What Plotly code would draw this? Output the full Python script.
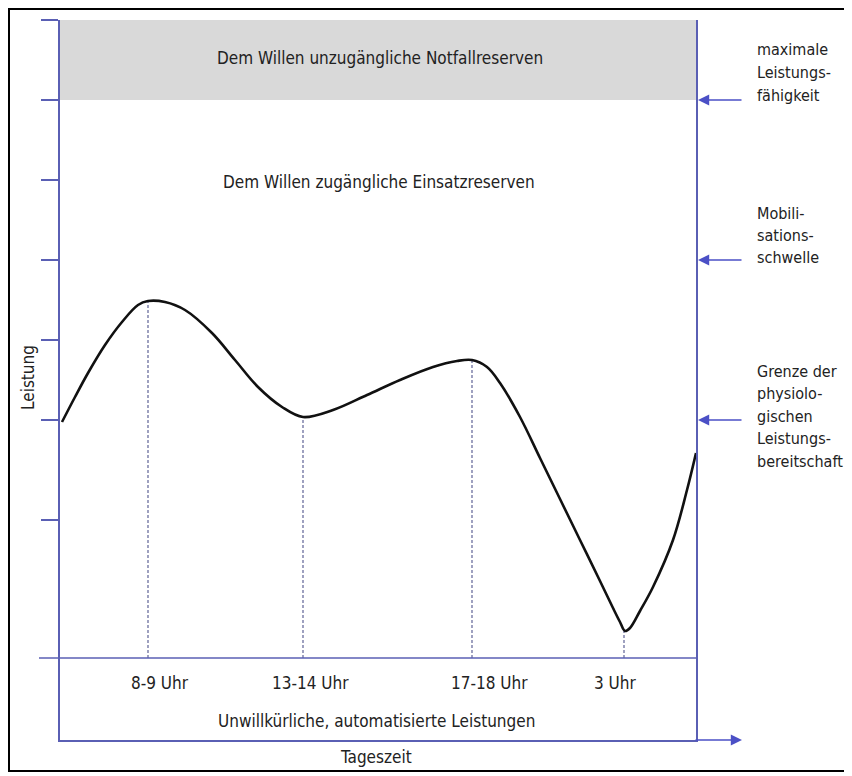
import plotly.graph_objects as go

# ---- data (arbitrary units: x = time-of-day position, y = Leistung) ----
curve_x = [2, 15, 28, 45, 62, 78, 88, 105, 125, 152, 175, 198, 222, 243, 273, 307, 340,
           373, 397, 412, 427, 440, 460, 480, 500, 520, 540, 553, 560, 565, 570, 580, 593,
           613, 627, 636]
curve_y = [236, 261, 285, 313, 336, 353, 357, 356, 348, 325, 298, 271, 251, 241, 248, 263, 278,
           291, 297, 298, 291, 275, 241, 200, 159, 118, 77, 50, 36, 27, 30, 47, 71,
           118, 168, 205]

time_labels = ["8-9 Uhr", "13-14 Uhr", "17-18 Uhr", "3 Uhr"]
time_pos = [88, 243, 412, 564]
time_val = [357, 241, 298, 27]
time_label_pos = [100, 250, 429, 555]

level_ticks = [138, 238, 318, 398, 478, 558, 638]
level_vals = [558, 398, 238]
level_labels = [["maximale", "Leistungs-", "fähigkeit"],
                ["Mobili-", "sations-", "schwelle"],
                ["Grenze der", "physiolo-", "gischen", "Leistungs-", "bereitschaft"]]

band_low, band_high = 558, 638
X0, X1 = 0, 636
Y0, Y1 = -82, 638

FONT = "Liberation Sans Narrow, DejaVu Sans Condensed, Roboto, sans-serif"
BLUE = "#5a5fb4"
ARROW = "#4b50c6"
TXT = "#222222"


def xp(x):
    return (x - X0) / (X1 - X0)


def yp(y):
    return (y - Y0) / (Y1 - Y0)


fig = go.Figure()

# dashed guide lines
for t, v in zip(time_pos, time_val):
    fig.add_trace(go.Scatter(x=[t, t], y=[0, v], mode="lines",
                             line=dict(color="#5f6396", width=1.2, dash="3px,2px"),
                             hoverinfo="skip", showlegend=False))

# performance curve
fig.add_trace(go.Scatter(x=curve_x, y=curve_y, mode="lines",
                         line=dict(color="#111111", width=2.6, shape="spline", smoothing=1.0),
                         showlegend=False))

shapes = []
shapes.append(dict(type="rect", xref="x", yref="y", x0=X0, x1=X1, y0=band_low, y1=band_high,
                   fillcolor="#d9d9d9", line=dict(width=0), layer="below"))
shapes.append(dict(type="line", xref="paper", yref="paper", x0=-21 / (X1 - X0), x1=1,
                   y0=yp(0), y1=yp(0), line=dict(color=BLUE, width=1.6)))
shapes.append(dict(type="rect", xref="paper", yref="paper",
                   x0=-51 / 636, x1=789 / 636, y0=-31 / 720, y1=731 / 720,
                   line=dict(color="#000000", width=2)))

annotations = []
annotations.append(dict(x=(X0 + X1) / 2 + 2, y=(band_low + band_high) / 2 + 2, xref="x", yref="y",
                        text="Dem Willen unzugängliche Notfallreserven", showarrow=False,
                        font=dict(size=17, color=TXT, family=FONT)))
annotations.append(dict(x=(X0 + X1) / 2 + 1, y=476, xref="x", yref="y",
                        text="Dem Willen zugängliche Einsatzreserven", showarrow=False,
                        font=dict(size=17, color=TXT, family=FONT)))
for lab, xpos in zip(time_labels, time_label_pos):
    annotations.append(dict(x=xpos, y=-25, xref="x", yref="y", text=lab, showarrow=False,
                            font=dict(size=17, color=TXT, family=FONT)))
annotations.append(dict(x=316, y=yp(-63), xref="x", yref="paper",
                        text="Unwillkürliche, automatisierte Leistungen", showarrow=False,
                        yanchor="middle", font=dict(size=17, color=TXT, family=FONT)))
annotations.append(dict(x=316, y=yp(-99), xref="x", yref="paper", text="Tageszeit",
                        showarrow=False, yanchor="middle",
                        font=dict(size=17, color=TXT, family=FONT)))
annotations.append(dict(x=-32 / 636, y=280, xref="paper", yref="y", text="Leistung",
                        textangle=-90, showarrow=False, xanchor="center", yanchor="middle",
                        font=dict(size=17, color=TXT, family=FONT)))

# level arrows and labels on the right
label_first = [609, 445, 287]   # Leistung-level of first text line in each block
label_step = [23, 22, 22.5]
for lv, lines, y1st, step in zip(level_vals, level_labels, label_first, label_step):
    annotations.append(dict(x=xp(X1) + 2 / 636, y=lv, xref="paper", yref="y", text="",
                            showarrow=True, ax=45, ay=0, arrowhead=2, arrowsize=1.4,
                            arrowwidth=1.6, arrowcolor=ARROW))
    for i, line in enumerate(lines):
        annotations.append(dict(x=(755 - 60) / 636, y=y1st - i * step, xref="paper", yref="y",
                                text=line, showarrow=False, xanchor="left", yanchor="middle",
                                font=dict(size=16, color=TXT, family=FONT)))
# time axis arrow
annotations.append(dict(x=xp(X1) + 46 / 636, y=0, xref="paper", yref="paper", text="",
                        showarrow=True, ax=-48, ay=0, arrowhead=2, arrowsize=1.4,
                        arrowwidth=1.6, arrowcolor=ARROW))

# page body has an 8px margin: figure is 844x768 so the plot sits at the intended pixels
fig.update_layout(
    width=844, height=768,
    margin=dict(l=52, r=156, t=12, b=36),
    paper_bgcolor="white", plot_bgcolor="white",
    shapes=shapes, annotations=annotations,
    xaxis=dict(range=[X0, X1], showgrid=False, zeroline=False, showline=True,
               linecolor=BLUE, linewidth=1.6, showticklabels=False, ticks="", mirror=False,
               fixedrange=True),
    yaxis=dict(range=[Y0, Y1], showgrid=False, zeroline=False, showline=True,
               linecolor=BLUE, linewidth=1.6, mirror=True, ticks="outside",
               tickvals=level_ticks, ticklen=17, tickwidth=1.6, tickcolor=BLUE,
               showticklabels=False, fixedrange=True),
    showlegend=False,
)

fig.write_html("out.html")
